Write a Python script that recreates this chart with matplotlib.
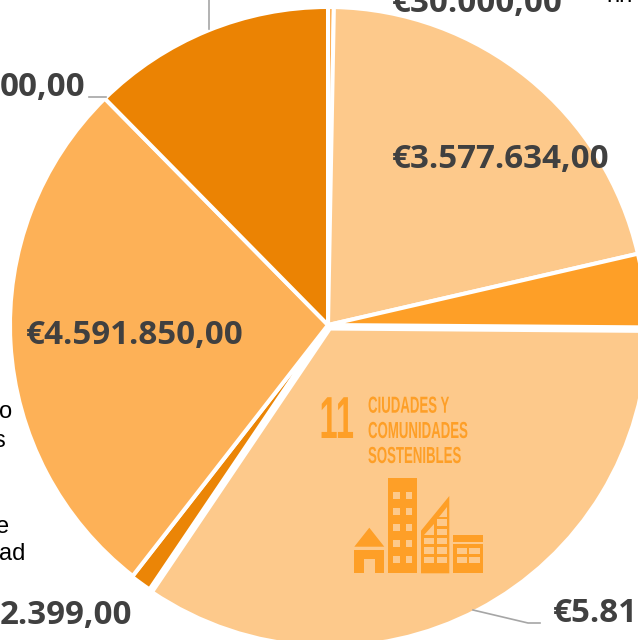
import matplotlib
matplotlib.use('Agg')
import matplotlib.pyplot as plt
from matplotlib.patches import Rectangle, Polygon
from matplotlib.patheffects import AbstractPathEffect
from matplotlib.transforms import Affine2D

# valores, el orden es el de las agujas del reloj desde arriba
values = [50000, 3577634, 630000, 5819000, 182399, 4591850, 2099000]
colors = ['#FDB157', '#FDC98B', '#FE9F27', '#FDC98B', '#EB8506', '#FDB157', '#EB8303']
explode = [0, 0, 0, 4, 1, 0, 0]

labels = ['€30.000,00', '€3.577.634,00', '€4.591.850,00', '00,00', '2.399,00', '€5.81']
label_x = [392, 392, 26, 0, 0, 553]
label_y = [4, 159, 336, 88, 615, 614]

# trozos de la leyenda que quedan recortados por los bordes
legend_left = ['o', 's', 'e', 'ad']
legend_x = [-1, -7, -4, -1]
legend_y = [412, 441, 527, 554]

W, H = 638, 640
ICON = '#FE9F27'
GREY = '#A6A6A6'
NARROW = 'Liberation Sans'


class Squeeze(AbstractPathEffect):
    # no hay fuente condensada, se estrecha el texto en horizontal
    def __init__(self, x0, sx):
        super().__init__()
        self.x0 = x0
        self.sx = sx

    def draw_path(self, renderer, gc, tpath, affine, rgbFace=None):
        t = Affine2D().translate(-self.x0, 0).scale(self.sx, 1).translate(self.x0, 0)
        renderer.draw_path(gc, tpath, affine + t, rgbFace)


fig = plt.figure(figsize=(6.38, 6.40), dpi=100)
ax = fig.add_axes([0, 0, 1, 1])

# con el eje y invertido la tarta se dibuja en espejo
wedges, _ = ax.pie(values, colors=colors, center=(328, 325), radius=318,
                   startangle=270, counterclock=True, frame=True, explode=explode,
                   wedgeprops={'edgecolor': 'white', 'linewidth': 2.9})
ax.set_xlim(0, W)
ax.set_ylim(H, 0)
ax.set_aspect('equal')
ax.axis('off')

for t, x, y in zip(labels, label_x, label_y):
    ax.text(x, y, t, family='Open Sans', weight='bold', fontsize=23.9,
            color='#404040', ha='left', va='center')

for t, x, y in zip(legend_left, legend_x, legend_y):
    ax.text(x, y, t, family='Liberation Sans', fontsize=17, color='black',
            ha='left', va='center')
ax.text(606, 2, 'nn', family='Liberation Sans', fontsize=17, color='black',
        ha='left', va='baseline')

# lineas guia
ax.plot([209, 209], [0, 29], color=GREY, lw=1.2)
ax.plot([89, 106], [97, 97], color=GREY, lw=1.2)
ax.plot([473, 528, 540], [610, 623, 623], color=GREY, lw=1.2)


def narrow_text(x, y, s, size, sx, ha='left'):
    x0 = ax.transData.transform((x, y))[0]
    txt = ax.text(x, y, s, family=NARROW, weight='bold', fontsize=size, color=ICON,
                  ha=ha, va='baseline')
    txt.set_path_effects([Squeeze(x0, sx)])


# icono ODS 11
narrow_text(354, 438, '11', 42.7, 0.55, ha='right')
for t, y in zip(['CIUDADES Y', 'COMUNIDADES', 'SOSTENIBLES'], [412.7, 438, 463]):
    narrow_text(368, y, t, 16.7, 0.57)

bg = '#FDC98B'


def box(x0, y0, x1, y1, c=ICON):
    ax.add_patch(Rectangle((x0, y0), x1 - x0, y1 - y0, color=c, lw=0))


def poly(pts, c=ICON):
    ax.add_patch(Polygon(pts, color=c, lw=0))


# casa
poly([[354.3, 546.7], [384.3, 546.7], [369.3, 527.7]])
box(354, 550, 384.3, 573.3)
box(364, 559, 374.7, 573.3, bg)
# torre
box(388.3, 478.3, 417.3, 572.7)
for y in [491.7, 507.7, 523.7, 539.7, 555.7]:
    box(393.3, y, 400, y + 7, bg)
    box(405.7, y, 412.3, y + 7, bg)
# edificio inclinado
poly([[421, 573.3], [421, 530.7], [449.3, 496], [449.3, 573.3]])
poly([[447, 506.7], [447, 516.7], [438.7, 516.7]], bg)
poly([[424.3, 535], [434.3, 535], [434.3, 524]], bg)
for y in [519.3, 528.7, 538, 547.3, 556.7]:
    box(437, y, 447, y + 6.3, bg)
for y in [538, 547.3, 556.7]:
    box(424.3, y, 434.3, y + 6.3, bg)
# edificio bajo
box(453.3, 535, 482.7, 542)
box(453.3, 544, 482.7, 573.3)
for y in [547.7, 556.7]:
    box(456.7, y, 466.7, y + 6, bg)
    box(469.3, y, 480, y + 6, bg)

fig.savefig('out.png', dpi=100)
